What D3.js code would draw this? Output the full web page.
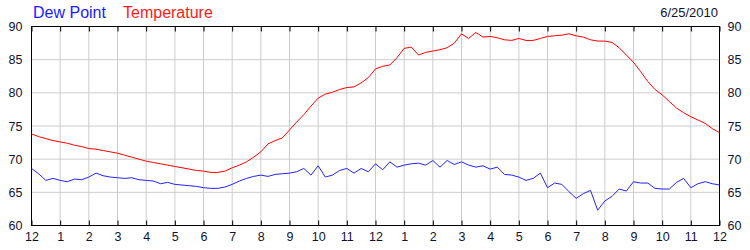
<!DOCTYPE html>
<html>
<head>
<meta charset="utf-8">
<script src="https://cdn.jsdelivr.net/npm/d3@7"></script>
<style>
  body { margin: 0; background: #fff; }
  svg text { font-family: Tahoma, "DejaVu Sans", Arial, sans-serif; }
  .axis text { font-family: Arial, "Liberation Sans", sans-serif; font-size: 12.5px; fill: #111133; }
  .axis .domain { display: none; }
  .axis line { stroke: #000; }
</style>
</head>
<body>
<div id="chart"></div>
<script>
// hourly weather chart, one value every 15 minutes
var hourLabels = ["12","1","2","3","4","5","6","7","8","9","10","11",
                  "12","1","2","3","4","5","6","7","8","9","10","11","12"];
var yTicks = [60, 65, 70, 75, 80, 85, 90];
var dateLabel = "6/25/2010";

var temperature = [
  73.8, 73.4, 73.1, 72.8, 72.6, 72.4, 72.1, 71.9, 71.6, 71.5, 71.3, 71.1,
  70.9, 70.6, 70.3, 70.0, 69.7, 69.5, 69.3, 69.1, 68.9, 68.7, 68.5, 68.3,
  68.2, 68.0, 68.0, 68.2, 68.7, 69.1, 69.6, 70.3, 71.1, 72.3, 72.8, 73.2,
  74.4, 75.6, 76.7, 78.0, 79.2, 79.8, 80.1, 80.5, 80.8, 80.9, 81.5, 82.3,
  83.6, 84.0, 84.2, 85.3, 86.7, 86.9, 85.7, 86.1, 86.3, 86.5, 86.8, 87.5,
  88.9, 88.2, 89.1, 88.4, 88.5, 88.3, 88.0, 87.9, 88.2, 87.9, 87.9, 88.2,
  88.5, 88.6, 88.7, 88.9, 88.6, 88.4, 88.0, 87.8, 87.8, 87.6, 86.8, 85.7,
  84.6, 83.2, 81.7, 80.5, 79.7, 78.7, 77.7, 77.0, 76.4, 75.9, 75.4, 74.6,
  74.0
];

var dewPoint = [
  68.6, 67.8, 66.8, 67.1, 66.8, 66.6, 67.0, 66.9, 67.3, 67.9, 67.5, 67.3,
  67.2, 67.1, 67.2, 66.9, 66.8, 66.7, 66.3, 66.5, 66.2, 66.1, 66.0, 65.9,
  65.7, 65.6, 65.6, 65.8, 66.2, 66.7, 67.1, 67.4, 67.6, 67.4, 67.7, 67.8,
  67.9, 68.1, 68.6, 67.6, 69.0, 67.3, 67.6, 68.3, 68.6, 67.9, 68.6, 68.1,
  69.3, 68.4, 69.6, 68.8, 69.1, 69.3, 69.4, 69.1, 69.8, 68.8, 69.8, 69.2,
  69.6, 69.1, 68.8, 69.0, 68.5, 68.8, 67.7, 67.6, 67.3, 66.8, 67.1, 67.9,
  65.7, 66.4, 66.2, 65.1, 64.1, 64.8, 65.3, 62.3, 63.7, 64.4, 65.5, 65.2,
  66.6, 66.4, 66.4, 65.6, 65.5, 65.5, 66.5, 67.1, 65.7, 66.3, 66.6, 66.3,
  66.1
];

var svgWidth = 750, svgHeight = 250;
var margin = {top: 26.5, right: 30.5, bottom: 24.5, left: 31.5};

var svg = d3.select("#chart").append("svg")
  .attr("width", svgWidth)
  .attr("height", svgHeight);

var x = d3.scaleLinear()
  .domain([0, 24])
  .range([margin.left, svgWidth - margin.right]);

var y = d3.scaleLinear()
  .domain([60, 90])
  .range([svgHeight - margin.bottom, margin.top]);

var hours = d3.range(hourLabels.length);

// grid
svg.append("g")
  .selectAll("line")
  .data(hours.slice(1, -1))
  .join("line")
    .attr("x1", function(d) { return x(d); })
    .attr("x2", function(d) { return x(d); })
    .attr("y1", y(90))
    .attr("y2", y(60))
    .attr("stroke", "#cccccc");

svg.append("g")
  .selectAll("line")
  .data(yTicks.slice(1, -1))
  .join("line")
    .attr("x1", x(0))
    .attr("x2", x(24))
    .attr("y1", function(d) { return y(d); })
    .attr("y2", function(d) { return y(d); })
    .attr("stroke", "#cccccc");

// axes
svg.append("g")
  .attr("class", "axis")
  .attr("transform", "translate(0," + y(60) + ")")
  .call(d3.axisBottom(x)
    .tickValues(hours)
    .tickFormat(function(d) { return hourLabels[d]; })
    .tickSizeInner(-5)
    .tickSizeOuter(0)
    .tickPadding(7));

svg.append("g")
  .attr("class", "axis")
  .attr("transform", "translate(0," + y(90) + ")")
  .call(d3.axisTop(x)
    .tickValues(hours)
    .tickFormat("")
    .tickSizeInner(-5)
    .tickSizeOuter(0));

svg.append("g")
  .attr("class", "axis")
  .attr("transform", "translate(" + x(0) + ",0)")
  .call(d3.axisLeft(y).tickValues(yTicks).tickSize(0).tickPadding(9));

svg.append("g")
  .attr("class", "axis")
  .attr("transform", "translate(" + x(24) + ",0)")
  .call(d3.axisRight(y).tickValues(yTicks).tickSize(0).tickPadding(8));

// frame
svg.append("rect")
  .attr("x", x(0))
  .attr("y", y(90))
  .attr("width", x(24) - x(0))
  .attr("height", y(60) - y(90))
  .attr("fill", "none")
  .attr("stroke", "#000");

// series
var line = d3.line()
  .x(function(d, i) { return x(i / 4); })
  .y(function(d) { return y(d); });

svg.append("path")
  .datum(dewPoint)
  .attr("fill", "none")
  .attr("stroke", "#2222ff")
  .attr("stroke-width", 1)
  .attr("d", line);

svg.append("path")
  .datum(temperature)
  .attr("fill", "none")
  .attr("stroke", "#ff0000")
  .attr("stroke-width", 1)
  .attr("d", line);

// legend and date
svg.append("text")
  .attr("x", 33).attr("y", 18)
  .attr("fill", "#1a1aff")
  .style("font-family", "Arial, 'Liberation Sans', sans-serif")
  .style("font-size", "16px")
  .text("Dew Point");

svg.append("text")
  .attr("x", 123).attr("y", 18)
  .attr("fill", "#ff1a1a")
  .style("font-family", "Arial, 'Liberation Sans', sans-serif")
  .style("font-size", "16px")
  .text("Temperature");

svg.append("text")
  .attr("x", 718).attr("y", 17)
  .attr("text-anchor", "end")
  .attr("fill", "#111133")
  .style("font-family", "Arial, 'Liberation Sans', sans-serif")
  .style("font-size", "13px")
  .text(dateLabel);
</script>
</body>
</html>
